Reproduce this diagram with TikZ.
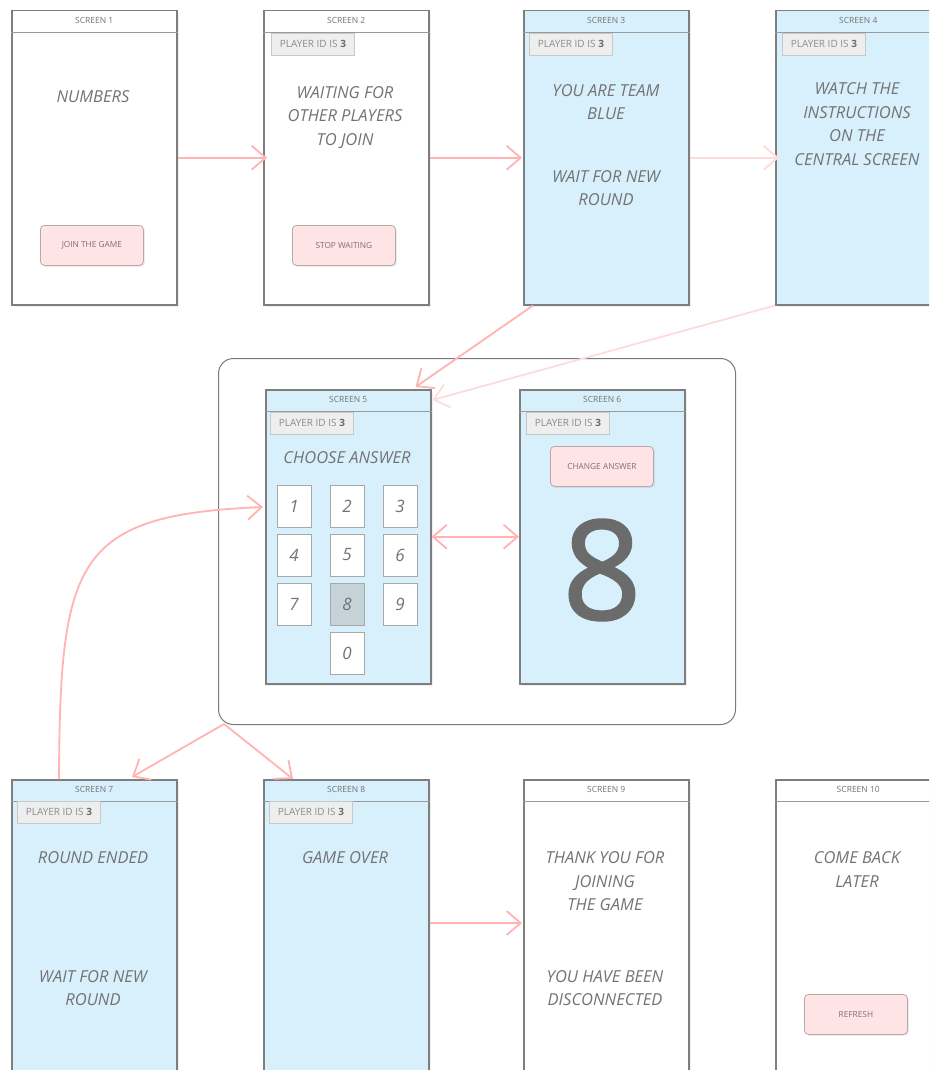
\documentclass[tikz,border=0pt]{standalone}
\usepackage{fontspec}
\setmainfont{Open Sans}
\newfontfamily\bigdigit{Open Sans}[FakeBold=1.6]
\usetikzlibrary{arrows.meta,shadows,calc}
\definecolor{scrblue}{HTML}{D7F0FC}
\definecolor{scrline}{HTML}{7E7E7E}
\definecolor{hdrline}{HTML}{9A9A9A}
\definecolor{txt}{HTML}{737373}
\definecolor{btnfill}{HTML}{FFE4E6}
\definecolor{btnline}{HTML}{B8A8A8}
\definecolor{btntxt}{HTML}{806F70}
\definecolor{arrpink}{HTML}{FFB3B3}
\definecolor{arrlight}{HTML}{FFDCDC}
\definecolor{badgefill}{HTML}{EEEEEE}
\definecolor{badgeline}{HTML}{C8C8C8}
\definecolor{badgetxt}{HTML}{8C8C8C}
\definecolor{keysel}{HTML}{C5D2D8}
\definecolor{keyline}{HTML}{A8A8A8}
\definecolor{bigtxt}{HTML}{6B6B6B}
\definecolor{grpline}{HTML}{7A7A7A}
\begin{document}
\begin{tikzpicture}[x=1pt,y=-1pt,
  screen/.style={draw=scrline, line width=1.5pt, fill=white, minimum width=165pt, minimum height=294pt, anchor=north west, inner sep=0pt,
    drop shadow={shadow xshift=2pt, shadow yshift=-2pt, opacity=0.12}},
  bluescreen/.style={screen, fill=scrblue},
  hdr/.style={text=txt, font=\fontsize{8.5}{9}\selectfont, inner sep=0pt},
  hdrsep/.style={draw=hdrline, line width=0.8pt},
  body/.style={text=txt, font=\fontsize{16.5}{23.5}\selectfont\itshape, align=center, inner sep=0pt},
  badge/.style={draw=badgeline, fill=badgefill, line width=0.8pt, minimum width=83pt, minimum height=22pt, anchor=north west, inner sep=0pt,
    text=badgetxt, font=\fontsize{10}{11}\selectfont},
  btn/.style={draw=btnline, fill=btnfill, line width=0.8pt, rounded corners=4pt, minimum width=103pt, minimum height=40pt, anchor=north west, inner sep=0pt,
    text=btntxt, font=\fontsize{8.3}{9}\selectfont, drop shadow={shadow xshift=1.5pt, shadow yshift=-1.5pt, opacity=0.15}},
  keybox/.style={draw=keyline, fill=white, line width=0.8pt, minimum width=34pt, minimum height=42pt, inner sep=0pt,
    text=txt, font=\fontsize{17}{18}\selectfont\itshape, drop shadow={shadow xshift=1pt, shadow yshift=-1pt, opacity=0.12}},
  arr/.style={draw=arrpink, line width=1.8pt, -{Straight Barb[length=14pt,width=24pt]}},
  arrl/.style={arr, draw=arrlight},
  group/.style={draw=grpline, line width=1pt, rounded corners=15pt, minimum width=517pt, minimum height=366pt, anchor=north west, inner sep=0pt}
]
\useasboundingbox (0,0) rectangle (929,1070);
\clip (0,0) rectangle (929,1070);
\fill[white] (0,0) rectangle (929,1070);

% group
\node[group] (g) at (218,358) {};

% screens
\node[screen] (s1) at (11,10) {};
\node[screen] (s2) at (263,10) {};
\node[bluescreen] (s3) at (523,10) {};
\node[bluescreen] (s4) at (775,10) {};
\node[bluescreen] (s5) at (265,389) {};
\node[bluescreen] (s6) at (519,389) {};
\node[bluescreen] (s7) at (11,779) {};
\node[bluescreen] (s8) at (263,779) {};
\node[screen] (s9) at (523,779) {};
\node[screen] (s10) at (775,779) {};

% headers
\foreach \s/\n in {s1/1,s2/2,s3/3,s4/4,s5/5,s6/6,s7/7,s8/8,s9/9,s10/10}{
  \draw[hdrsep] ($(\s.north west)+(0,22)$) -- ($(\s.north east)+(0,22)$);
  \node[hdr] (h\n) at ($(\s.north)+(0,10.5)$) {SCREEN \n};
}

% badges
\node[badge] (b2) at (271,33) {PLAYER ID IS \textcolor{bigtxt}{\textbf{3}}};
\node[badge] (b3) at (529,33) {PLAYER ID IS \textcolor{bigtxt}{\textbf{3}}};
\node[badge] (b4) at (782,33) {PLAYER ID IS \textcolor{bigtxt}{\textbf{3}}};
\node[badge] (b5) at (270,412) {PLAYER ID IS \textcolor{bigtxt}{\textbf{3}}};
\node[badge] (b6) at (526,412) {PLAYER ID IS \textcolor{bigtxt}{\textbf{3}}};
\node[badge] (b7) at (17,801) {PLAYER ID IS \textcolor{bigtxt}{\textbf{3}}};
\node[badge] (b8) at (269,801) {PLAYER ID IS \textcolor{bigtxt}{\textbf{3}}};

% body texts
\node[body] (t1) at (93,97) {NUMBERS};
\node[body] (t2) at (345,117.5) {WAITING FOR\\OTHER PLAYERS\\TO JOIN};
\node[body] (t3a) at (606,102) {YOU ARE TEAM\\BLUE};
\node[body] (t3b) at (606,188) {WAIT FOR NEW\\ROUND};
\node[body] (t4) at (857,124) {WATCH THE\\INSTRUCTIONS\\ON THE\\CENTRAL SCREEN};
\node[body] (t5) at (347,458) {CHOOSE ANSWER};
\node[body] (t7a) at (93,858) {ROUND ENDED};
\node[body] (t7b) at (93,988) {WAIT FOR NEW\\ROUND};
\node[body] (t8) at (345,858) {GAME OVER};
\node[body] (t9a) at (605,881.5) {THANK YOU FOR\\JOINING\\THE GAME};
\node[body] (t9b) at (605,988) {YOU HAVE BEEN\\DISCONNECTED};
\node[body] (t10) at (857,869.5) {COME BACK\\LATER};

% buttons
\node[btn] (bt1) at (40,225) {JOIN THE GAME};
\node[btn] (bt2) at (292,225) {STOP WAITING};
\node[btn] (bt6) at (550,446) {CHANGE ANSWER};
\node[btn] (bt10) at (804,994) {REFRESH};

% keypad
\node[keybox] (k1) at (294,506) {1};
\node[keybox] (k2) at (347,506) {2};
\node[keybox] (k3) at (400,506) {3};
\node[keybox] (k4) at (294,555) {4};
\node[keybox] (k5) at (347,555) {5};
\node[keybox] (k6) at (400,555) {6};
\node[keybox] (k7) at (294,604) {7};
\node[keybox, fill=keysel] (k8) at (347,604) {8};
\node[keybox] (k9) at (400,604) {9};
\node[keybox] (k0) at (347,653) {0};

% big answer
\node[text=bigtxt, font=\bigdigit\fontsize{138}{138}\selectfont, inner sep=0pt] (big) at (602,570) {8};

% connectors
\draw[arr] (s1.east) -- ($(s2.west)+(4,0)$);
\draw[arr] (s2.east) -- ($(s3.west)+(-1,0)$);
\draw[arrl] (s3.east) -- ($(s4.west)+(4,0)$);
\draw[arr] ($(s3.south west)+(10,0)$) -- ($(s5.north east)+(-16,-2)$);
\draw[arrl] (s4.south west) -- ($(s5.north east)+(1,11)$);
\draw[arr] ($(s7.north west)+(48,0)$) .. controls (60,560) and (75,515) .. ($(s5.north west)+(-2,118)$);
\coordinate (gc) at ($(g.south west)+(6,-1)$);
\draw[arr] (gc) -- ($(s7.north west)+(121,-2)$);
\draw[arr] (gc) -- ($(s8.north west)+(30,0)$);
\draw[arr, {Straight Barb[length=14pt,width=24pt]}-{Straight Barb[length=14pt,width=24pt]}] (s5.east) -- (s6.west);
\draw[arr] ($(s8.north east)+(0,144)$) -- ($(s9.north west)+(-1,144)$);
\end{tikzpicture}
\end{document}
